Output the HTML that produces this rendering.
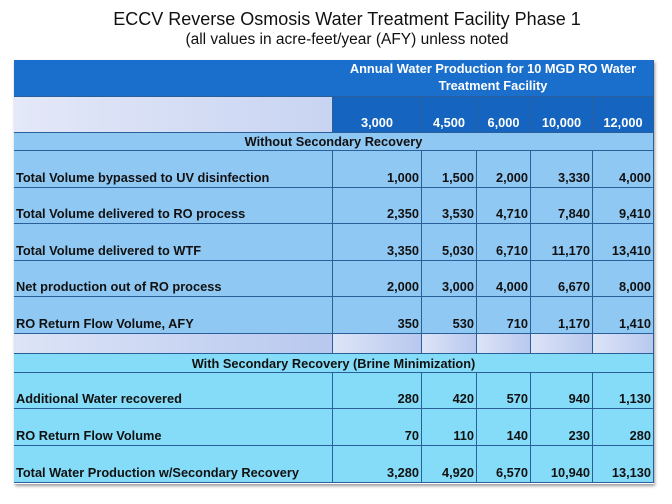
<!DOCTYPE html>
<html><head><style>
body{margin:0;width:672px;height:504px;background:#fff;position:relative;overflow:hidden;font-family:"Liberation Sans",sans-serif}
.t{position:absolute;left:0;width:672px;text-align:center;color:#111}
.c{position:absolute;box-sizing:border-box;font-weight:bold;font-size:12.8px;color:#111;display:flex;align-items:flex-end;padding:0 2px 2px 2px;border-right:1px solid #2a5f9a;border-bottom:1px solid #2a5f9a;white-space:nowrap}
.n{justify-content:flex-end}
.h{color:#fff;background:#1565c8;justify-content:center}
</style></head><body>
<div class="t" style="top:9px;font-size:18px;padding-left:22px;box-sizing:border-box">ECCV Reverse Osmosis Water Treatment Facility Phase 1</div>
<div class="t" style="top:31px;font-size:15.5px;padding-left:22px;box-sizing:border-box">(all values in acre-feet/year (AFY) unless noted</div>
<div style="position:absolute;left:14px;top:60px;width:640px;height:424px;box-shadow:1px 2px 3px #999"></div>
<div id="g"></div>
<script>
var cols=[14,333,422,477,531,593,654];
var h='';
function cell(x0,x1,y0,y1,txt,cls,bg,extra){h+='<div class="c '+(cls||'')+'" style="left:'+x0+'px;top:'+y0+'px;width:'+(x1-x0)+'px;height:'+(y1-y0)+'px;background:'+bg+';'+(extra||'')+'">'+txt+'</div>';}
cell(14,333,60,97,'','','#1a6fcc','border-right:none');
cell(333,654,60,97,'Annual Water Production for 10 MGD RO Water<br>Treatment Facility','h','#1a6fcc','align-items:center;text-align:center;line-height:17px;white-space:normal');
cell(14,333,97,133,'','','linear-gradient(90deg,#e4e8f8,#c8d4f2)');
var hd=['3,000','4,500','6,000','10,000','12,000'];
for(var i=0;i<5;i++)cell(cols[i+1],cols[i+2],97,133,hd[i],'h','#1565c0');
function sec(y0,y1,t,bg){cell(14,654,y0,y1,t,'',bg,'justify-content:center;align-items:center;padding:0');}
function row(y0,y1,lab,v,bg){cell(14,333,y0,y1,lab,'',bg);for(var i=0;i<5;i++)cell(cols[i+1],cols[i+2],y0,y1,v[i],'n',bg);}
var b1='#90c8f4',b2='#84dcf8';
sec(133,151,'Without Secondary Recovery',b1);
row(151,188,'Total Volume bypassed to UV disinfection',['1,000','1,500','2,000','3,330','4,000'],b1);
row(188,224,'Total Volume delivered to RO process',['2,350','3,530','4,710','7,840','9,410'],b1);
row(224,261,'Total Volume delivered to WTF',['3,350','5,030','6,710','11,170','13,410'],b1);
row(261,297,'Net production out of RO process',['2,000','3,000','4,000','6,670','8,000'],b1);
row(297,334,'RO Return Flow Volume, AFY',['350','530','710','1,170','1,410'],b1);
row(334,354,'',['','','','',''],'linear-gradient(90deg,#dde4f7,#b8c8ee)');
sec(354,373,'With Secondary Recovery (Brine Minimization)',b2);
row(373,409,'Additional Water recovered',['280','420','570','940','1,130'],b2);
row(409,446,'RO Return Flow Volume',['70','110','140','230','280'],b2);
row(446,483,'Total Water Production w/Secondary Recovery',['3,280','4,920','6,570','10,940','13,130'],b2);
document.getElementById('g').innerHTML=h;
</script>
</body></html>
